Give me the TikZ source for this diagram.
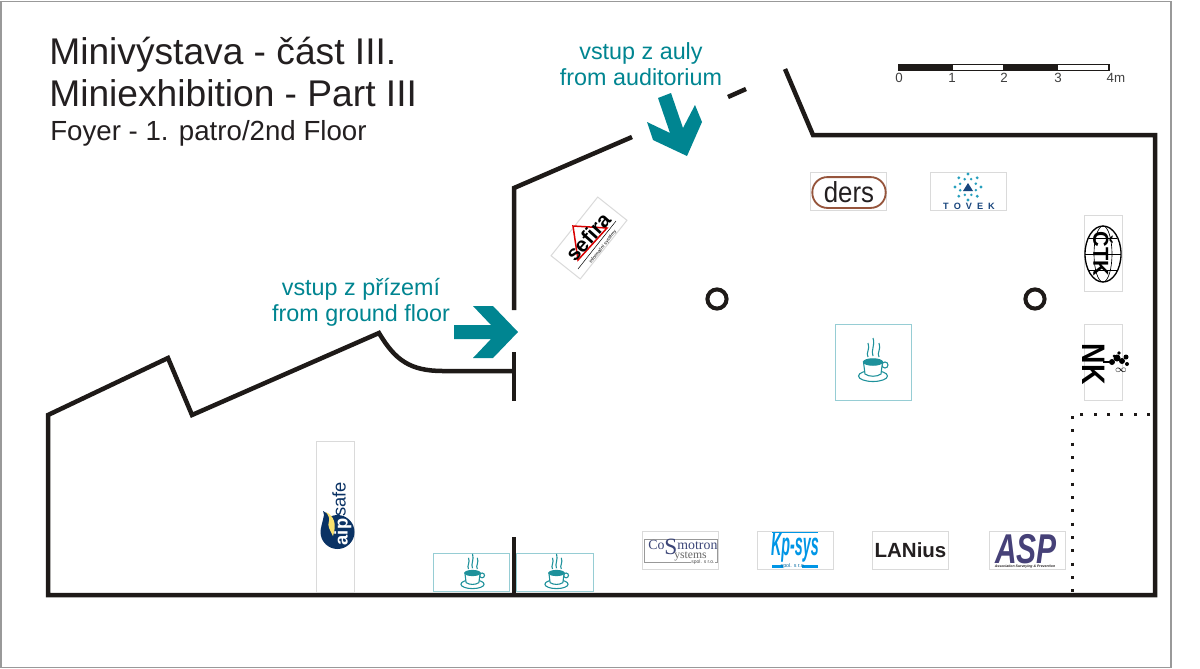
\documentclass[tikz,border=0pt]{standalone}
\usepackage{fontspec}
\setmainfont{Liberation Sans}
\newfontfamily\logoserif{Liberation Serif}
\usetikzlibrary{calc}
\definecolor{tealc}{RGB}{0,133,145}
\definecolor{wallc}{RGB}{30,26,24}
\definecolor{cupc}{RGB}{30,145,155}
\definecolor{cupbox}{RGB}{150,205,212}
\definecolor{logobox}{RGB}{218,218,218}
\definecolor{titlec}{RGB}{35,31,32}
\definecolor{aipblue}{RGB}{10,50,100}
\definecolor{aipyellow}{RGB}{250,225,110}
\definecolor{dersc}{RGB}{150,85,60}
\definecolor{tovekc}{RGB}{40,160,190}
\definecolor{tovekd}{RGB}{25,70,125}
\definecolor{cosmoc}{RGB}{60,70,120}
\definecolor{kpc}{RGB}{0,150,230}
\definecolor{aspc}{RGB}{70,65,120}
\tikzset{
  wall/.style={draw=wallc, line width=2.7pt, line join=miter},
  logobox/.style={draw=logobox, line width=0.6pt, fill=white, inner sep=0pt},
  cupboxst/.style={draw=cupbox, line width=0.6pt, fill=white, inner sep=0pt},
  entrytext/.style={text=tealc, font=\fontsize{14}{15.6}\selectfont, align=center, inner sep=0pt},
  scaletext/.style={text=black!75, font=\fontsize{8}{9}\selectfont, inner sep=0pt},
  titletext/.style={anchor=base west, inner sep=0pt, text=titlec},
  logotext/.style={inner sep=0pt},
  pillar/.style={circle, draw=wallc, line width=2.4pt, minimum size=11.5pt, inner sep=0pt}
}
% one coffee cup: position of the rim, scale
\newcommand{\coffeecup}[2]{%
  \begin{scope}[shift={(#1)}, scale=#2, draw=cupc, line width=0.65pt]
    \draw (0,14) ellipse (14.5 and 5.5);
    \draw (12,3) circle (3);
    \draw[fill=white] (-9.5,0) -- (-8,12) .. controls (-4,15) and (4,15) .. (8,12) -- (9.5,0) -- cycle;
    \draw[fill=cupc] (0,0) ellipse (9.5 and 3.2);
    \draw (-5,-5) .. controls (-7.5,-9) and (-2.5,-13) .. (-5,-19);
    \draw (0,-6) .. controls (-2.5,-11) and (2.5,-17) .. (0,-24);
    \draw (6,-5) .. controls (3.5,-9) and (8.5,-13) .. (6,-19);
  \end{scope}}
\begin{document}
\begin{tikzpicture}[x=0.6pt,y=-0.6pt]
\useasboundingbox (0,0) rectangle (1200,668);
\node[draw=black!40, line width=0.7pt, fill=white, minimum width=702pt, minimum height=400pt, inner sep=0pt, anchor=north west] (frame) at (0.5,0.5) {};
% titles
\node[titletext, font=\fontsize{22.3}{24}\selectfont] (titlecz) at (49,64) {Minivýstava - část III.};
\node[titletext, font=\fontsize{22.3}{24}\selectfont] (titleen) at (49,106) {Miniexhibition - Part III};
\node[titletext, font=\fontsize{16.6}{18}\selectfont] (titlefl) at (50,140) {Foyer - 1. patro/2nd Floor};
% walls
\coordinate (w0) at (632,137);
\coordinate (w1) at (514,188);
\coordinate (w2) at (514,310);
\coordinate (w3) at (514,352);
\coordinate (w4) at (514,401);
\coordinate (w5) at (514,371);
\coordinate (w6) at (443,371);
\coordinate (w7) at (379,333);
\coordinate (w8) at (192,415);
\coordinate (w9) at (168,358);
\coordinate (w10) at (48,415);
\coordinate (w11) at (48,595);
\coordinate (w12) at (1155,595);
\coordinate (w13) at (1155,135);
\coordinate (w14) at (813,135);
\coordinate (w15) at (785,69);
\coordinate (d0) at (728,97);
\coordinate (d1) at (746,89);
\coordinate (p0) at (514,537);
\coordinate (p1) at (514,595);
\draw[wall] (w0) -- (w1) -- (w2);
\draw[wall] (w3) -- (w4);
\draw[wall] (w5) -- (w6) .. controls (410,371) and (395,360) .. (w7) -- (w8) -- (w9) -- (w10) -- (w11) -- (w12) -- (w13) -- (w14) -- (w15);
\draw[wall] (d0) -- (d1);
\draw[wall] (p0) -- (p1);
% dotted partition
\coordinate (q0) at (1150,414);
\coordinate (q1) at (1072,414);
\coordinate (q2) at (1072,592);
\draw[wallc, line width=1.8pt, dash pattern=on 1.8pt off 6.2pt] (q0) -- (q1) -- (q2);
% entrance arrows
\fill[tealc] (454,325) -- (491,325) -- (473,306) -- (493,306) -- (518,332) -- (493,358) -- (473,358) -- (491,339) -- (454,339) -- cycle;
\fill[tealc] (658,98) -- (671,93) -- (683,128) -- (695,105) -- (702,122) -- (687,156) -- (653,140) -- (647,122) -- (670,133) -- cycle;
\node[entrytext] (audit) at (641,64) {vstup z auly\\from auditorium};
\node[entrytext] (ground) at (361,302) {vstup z přízemí\\from ground floor};
% pillars
\node[pillar] (pil1) at (717,299) {};
\node[pillar] (pil2) at (1035,299) {};
% logo boxes
\node[logobox, minimum width=45.6pt, minimum height=22.8pt] (ders) at (848,191) {};
\node[logobox, minimum width=45.6pt, minimum height=22.8pt] (tovek) at (968,191) {};
\node[logobox, minimum width=22.8pt, minimum height=45.6pt] (ctk) at (1103,253) {};
\node[logobox, minimum width=22.8pt, minimum height=45.6pt] (nk) at (1103,362) {};
\node[logobox, minimum width=22.8pt, minimum height=91pt] (aipbox) at (335,517) {};
\node[logobox, minimum width=45.6pt, minimum height=22.8pt] (cosmo) at (680,550) {};
\node[logobox, minimum width=45.6pt, minimum height=22.8pt] (kpsys) at (795,550) {};
\node[logobox, minimum width=45.6pt, minimum height=22.8pt] (lanius) at (910,550) {};
\node[logobox, minimum width=45.6pt, minimum height=22.8pt] (asp) at (1027,550) {};
\node[logobox, rotate=51.5, minimum width=45pt, minimum height=22.4pt] (sefirabox) at (589,238) {};
% coffee boxes
\node[cupboxst, minimum width=46pt, minimum height=46pt] (cafe1) at (873.5,362.5) {};
\node[cupboxst, minimum width=46pt, minimum height=22.8pt] (cafe2) at (471.5,572) {};
\node[cupboxst, minimum width=46pt, minimum height=22.8pt] (cafe3) at (555,572) {};
\coffeecup{873,362}{1}
\coffeecup{472.5,573}{0.8}
\coffeecup{556.5,573}{0.8}
% ders, tovek
\node[draw=dersc, line width=1.1pt, rounded corners=9pt, minimum width=44pt, minimum height=18.5pt, inner sep=0pt] (dersframe) at (849,192.5) {};
\node[logotext, yscale=1.12, font=\fontsize{15.5}{15}\selectfont, text=titlec] (derstxt) at (849,192) {ders};
\foreach \a in {0,45,...,315} {
  \fill[tovekc] ($(968,187)+(\a:13)$) circle (1.6);
  \fill[tovekc] ($(968,187)+(\a+22:8.5)$) circle (1.4);
}
\fill[tovekd] (963,191) -- (973,191) -- (968,183) -- cycle;
\node[logotext, font=\bfseries\fontsize{5.5}{6}\selectfont, text=tovekd] (tovektxt) at (969,206) {T\hspace{3pt}O\hspace{3pt}V\hspace{3pt}E\hspace{3pt}K};
% ctk, nk
\draw[black, line width=0.8pt] (1103,254) ellipse (18 and 28);
\draw[black, line width=0.4pt] (1103,254) ellipse (9 and 28);
\draw[black, line width=0.4pt] (1085,254) -- (1121,254) (1089,238) -- (1117,238) (1089,270) -- (1117,270);
\node[logotext, rotate=-90, font=\bfseries\fontsize{13}{13}\selectfont] (ctktxt) at (1103,254) {ČTK};
\node[logotext, rotate=-90, xscale=0.87, font=\bfseries\fontsize{19.5}{20}\selectfont] (nktxt) at (1093.5,364) {NK};
\draw[black, line width=0.8pt] (1103,362) -- (1112,362);
\foreach \px/\py/\pr in {1112/362/3, 1117/358/3.5, 1122/361/3, 1126/357/2.5, 1119/353/1.8, 1127/364/2, 1114/356/1.5} {
  \fill[black] (\px,\py) circle (\pr);
}
\node[logotext, font=\fontsize{6}{6}\selectfont] (nkmark) at (1121,370.5) {$\infty$};
% aip safe
\fill[aipblue] (337.5,532) circle (17);
\fill[aipblue] (322,530) .. controls (320,522) and (326,518) .. (323,511) .. controls (332,516) and (334,520) .. (334,526) -- cycle;
\fill[aipyellow] (326,512) .. controls (334,516) and (337,524) .. (333,536) .. controls (330,530) and (327,526) .. (329,521) .. controls (330,518) and (328,515) .. (326,512) -- cycle;
\node[logotext, rotate=90, font=\fontsize{11}{11}\selectfont, text=aipblue] (safetxt) at (339,499.5) {safe};
\node[logotext, rotate=90, font=\bfseries\fontsize{11}{11}\selectfont, text=white] (aiptxt) at (343,532) {aip};
% sefira
\draw[red!85!black, line width=0.9pt] (573,226) -- (607,228) -- (578,260) -- cycle;
\node[logotext, rotate=48, font=\bfseries\fontsize{12.5}{13}\selectfont] (sefiratxt) at (588,237) {sefira};
\draw[black, line width=0.3pt] (578,269) -- (616,221);
\node[logotext, rotate=51.5, font=\fontsize{2.8}{3}\selectfont] (sefirasub) at (603,247) {informační systémy};
% cosmotron
\node[draw=black!40, line width=0.6pt, minimum width=43.8pt, minimum height=13.8pt, inner sep=0pt] (cosmoframe) at (680.5,550.5) {};
\node[logotext, anchor=base west, font=\logoserif\fontsize{8.3}{8}\selectfont, text=cosmoc] (cosmotxt) at (648,549) {Co\raisebox{-3.5pt}{\fontsize{14}{14}\selectfont S}motron};
\node[logotext, anchor=base west, font=\logoserif\fontsize{7}{7}\selectfont, text=black!60] (cosmosub) at (674,558) {ystems};
\node[logotext, font=\fontsize{3}{3}\selectfont, text=black!70, fill=white] (cosmospol) at (703,562) {spol. s r.o.};
% kp-sys
\draw[kpc, line width=1.1pt] (772,532.5) -- (818,532.5);
\node[logotext, anchor=base, font=\bfseries\itshape\fontsize{19.5}{20}\selectfont, text=kpc, xscale=0.44] (kpsystxt) at (795,555) {Kp-sys};
\draw[kpc, line width=1.8pt] (772,566.5) -- (783,566.5) (802,566.5) -- (818,566.5);
\node[logotext, font=\fontsize{3.2}{3}\selectfont, text=kpc!70!black] (kpspol) at (793,566.5) {spol. s r.o.};
% lanius, asp
\node[logotext, font=\bfseries\fontsize{12.3}{12}\selectfont, text=titlec] (laniustxt) at (910.5,550) {LANius};
\node[logotext, anchor=base, font=\bfseries\itshape\fontsize{25}{25}\selectfont, text=aspc, xscale=0.72] (asptxt) at (1026,563) {ASP};
\node[logotext, font=\bfseries\itshape\fontsize{2.1}{3}\selectfont, text=titlec] (aspsub) at (1025,567) {Association Surveying \& Prevention};
% scale bar
\coordinate (s0) at (899,64.5);
\coordinate (s1) at (952,64.5);
\coordinate (s2) at (1004,64.5);
\coordinate (s3) at (1057,64.5);
\draw[fill=wallc, draw=wallc, line width=0.7pt] (s0) rectangle ++(53,6);
\draw[fill=white, draw=wallc, line width=0.9pt] (s1) rectangle ++(52,6);
\draw[fill=wallc, draw=wallc, line width=0.7pt] (s2) rectangle ++(53,6);
\draw[fill=white, draw=wallc, line width=0.9pt] (s3) rectangle ++(52,6);
\node[scaletext] (n0) at (899,78) {0};
\node[scaletext] (n1) at (952,78) {1};
\node[scaletext] (n2) at (1004,78) {2};
\node[scaletext] (n3) at (1058,78) {3};
\node[scaletext] (n4) at (1116,78) {4m};
\end{tikzpicture}
\end{document}
